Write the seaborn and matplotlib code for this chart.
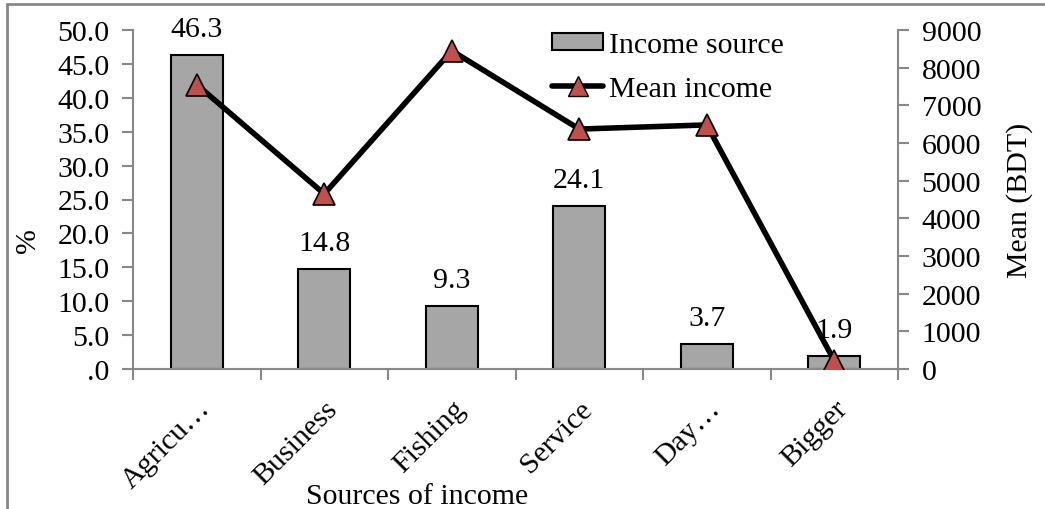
import matplotlib
matplotlib.use("Agg")
import matplotlib.pyplot as plt
import seaborn as sns
import pandas as pd
from matplotlib.ticker import FuncFormatter, FixedLocator
from matplotlib.patches import Rectangle
from matplotlib.lines import Line2D

categories = ["Agricu…", "Business", "Fishing", "Service", "Day…", "Bigger"]
income_source_pct = [46.3, 14.8, 9.3, 24.1, 3.7, 1.9]
mean_income_bdt = [7550, 4650, 8450, 6370, 6480, 220]

sns.set_theme(style="white")
plt.rcParams['font.family'] = ['Liberation Serif', 'DejaVu Serif']
plt.rcParams['text.color'] = 'black'
plt.rcParams['axes.labelcolor'] = 'black'
plt.rcParams['xtick.labelcolor'] = 'black'
plt.rcParams['ytick.labelcolor'] = 'black'
FS = 21.5

fig = plt.figure(figsize=(10.45, 5.1), dpi=100)
ax = fig.add_axes([133/1045, 140/510, 765/1045, 339/510])

df = pd.DataFrame({"cat": categories, "pct": income_source_pct, "mean": mean_income_bdt})

sns.barplot(data=df, x="cat", y="pct", ax=ax, color="#A6A6A6", width=0.405,
            edgecolor="black", linewidth=1.5, saturation=1)
for p, v in zip(ax.patches, income_source_pct):
    ax.text(p.get_x() + p.get_width()/2, v + 2.8, f"{v:.1f}", ha="center", va="baseline",
            fontsize=FS, color="black")

ax.set_xlim(-0.5, 5.5)
ax.set_ylim(0, 50)
ax.yaxis.set_major_locator(FixedLocator([i*5 for i in range(11)]))
ax.yaxis.set_major_formatter(FuncFormatter(lambda v, _: ".0" if v == 0 else f"{v:.1f}"))
ax.set_xticks([i + 0.5 for i in range(-1, 6)], minor=False)
ax.set_xticks(range(6), minor=True)
ax.set_xticklabels([""]*7)
ax.set_xticklabels(categories, minor=True, rotation=45, ha="right", rotation_mode="anchor",
                   fontsize=FS, color="black")
ax.tick_params(axis="x", which="minor", length=0, pad=19)
ax.tick_params(axis="x", which="major", length=8, width=1.5, color="#888888", direction="out")
ax.tick_params(axis="y", length=8, width=1.5, color="#888888", direction="out", labelsize=FS,
               pad=9, labelcolor="black")
ax.tick_params(axis="x", bottom=True, which="both")

for s in ["top", "right"]:
    ax.spines[s].set_visible(False)
for s in ["left", "bottom"]:
    ax.spines[s].set_color("#888888")
    ax.spines[s].set_linewidth(1.5)

ax.set_ylabel("%", fontsize=FS, color="black")
ax.yaxis.set_label_coords(-0.120, 0.383)
ax.set_xlabel("Sources of income", fontsize=FS, labelpad=0, color="black")
ax.xaxis.set_label_coords(0.371, -0.335)

ax2 = ax.twinx()
sns.lineplot(x=list(range(6)), y=mean_income_bdt, ax=ax2, color="black", linewidth=4,
             marker="^", markersize=16, markerfacecolor="#C0504D", markeredgecolor="black",
             markeredgewidth=1.2)
ax2.set_ylim(0, 9000)
ax2.set_xlim(-0.5, 5.5)
ax2.yaxis.set_major_locator(FixedLocator(range(0, 9001, 1000)))
ax2.tick_params(axis="y", length=8, width=1.5, color="#888888", direction="out", labelsize=FS,
                pad=9, labelcolor="black")
ax2.set_ylabel("Mean (BDT)", fontsize=FS, color="black")
ax2.yaxis.set_label_coords(1.141, 0.5)
for s in ["top", "left", "bottom"]:
    ax2.spines[s].set_visible(False)
ax2.spines["right"].set_color("#888888")
ax2.spines["right"].set_linewidth(1.5)

handles = [Rectangle((0, 0), 1, 1, facecolor="#A6A6A6", edgecolor="black", linewidth=1.5),
           Line2D([0], [0], color="black", linewidth=4, marker="^", markersize=14,
                  markerfacecolor="#C0504D", markeredgecolor="black")]
leg = ax2.legend(handles, ["Income source", "Mean income"], loc="upper left",
                 bbox_to_anchor=(0.548, 0.995), frameon=False, fontsize=FS,
                 handlelength=1.7, handleheight=0.5, handletextpad=0.2, labelspacing=0.6,
                 borderaxespad=0, borderpad=0)
for t in leg.get_texts():
    t.set_color("black")

fig.add_artist(Rectangle((7/1045, -0.2), 1.2, (505/510) + 0.2, transform=fig.transFigure,
                         fill=False, edgecolor="#888888", linewidth=2))

fig.savefig("out.png", dpi=100)
